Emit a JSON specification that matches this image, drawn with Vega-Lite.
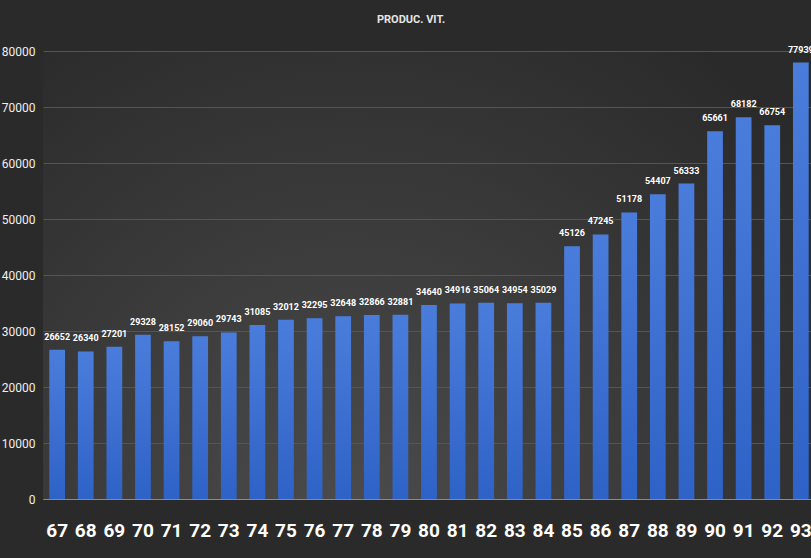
{
  "$schema": "https://vega.github.io/schema/vega-lite/v6.json",
  "width": 772,
  "height": 448,
  "autosize": {"type": "none"},
  "padding": {"left": 43, "top": 51, "right": 0, "bottom": 59},
  "background": "#2a2a2a",
  "title": {
    "text": "PRODUC. VIT.",
    "color": "#e6e6e6",
    "font": "Roboto",
    "fontSize": 11,
    "fontWeight": "bold",
    "dx": -18,
    "offset": 20
  },
  "config": {
    "view": {
      "stroke": null,
      "fill": {
        "gradient": "radial",
        "x1": 0.4, "y1": 0.8, "r1": 0,
        "x2": 0.4, "y2": 0.8, "r2": 0.75,
        "stops": [
          {"offset": 0, "color": "#4b4b4b"},
          {"offset": 1, "color": "#2a2a2a"}
        ]
      }
    }
  },
  "data": {
    "values": [
      {"year": "67", "value": 26652},
      {"year": "68", "value": 26340},
      {"year": "69", "value": 27201},
      {"year": "70", "value": 29328},
      {"year": "71", "value": 28152},
      {"year": "72", "value": 29060},
      {"year": "73", "value": 29743},
      {"year": "74", "value": 31085},
      {"year": "75", "value": 32012},
      {"year": "76", "value": 32295},
      {"year": "77", "value": 32648},
      {"year": "78", "value": 32866},
      {"year": "79", "value": 32881},
      {"year": "80", "value": 34640},
      {"year": "81", "value": 34916},
      {"year": "82", "value": 35064},
      {"year": "83", "value": 34954},
      {"year": "84", "value": 35029},
      {"year": "85", "value": 45126},
      {"year": "86", "value": 47245},
      {"year": "87", "value": 51178},
      {"year": "88", "value": 54407},
      {"year": "89", "value": 56333},
      {"year": "90", "value": 65661},
      {"year": "91", "value": 68182},
      {"year": "92", "value": 66754},
      {"year": "93", "value": 77939}
    ]
  },
  "encoding": {
    "x": {
      "field": "year",
      "type": "ordinal",
      "sort": null,
      "scale": {"paddingInner": 0.45, "paddingOuter": 0.22},
      "axis": {
        "title": null,
        "labelAngle": 0,
        "labelColor": "#ffffff",
        "labelFont": "Roboto",
        "labelFontSize": 19,
        "labelFontWeight": "bold",
        "labelPadding": 22,
        "ticks": false,
        "domainColor": "#8a8a8a",
        "domainWidth": 1
      }
    },
    "y": {
      "field": "value",
      "type": "quantitative",
      "scale": {"domain": [0, 80000], "nice": false},
      "axis": {
        "title": null,
        "format": "d",
        "values": [0, 10000, 20000, 30000, 40000, 50000, 60000, 70000, 80000],
        "labelColor": "#f0f0f0",
        "labelFont": "Roboto",
        "labelFontSize": 12,
        "labelPadding": 8,
        "ticks": false,
        "domain": false,
        "gridColor": "#555555",
        "gridWidth": 1
      }
    }
  },
  "layer": [
    {
      "mark": {
        "type": "bar",
        "color": {
          "gradient": "linear",
          "x1": 0, "y1": 0, "x2": 0, "y2": 1,
          "stops": [
            {"offset": 0, "color": "#4a7ddb"},
            {"offset": 1, "color": "#2f62c6"}
          ]
        }
      }
    },
    {
      "mark": {
        "type": "text",
        "dy": -13,
        "color": "#ffffff",
        "font": "Roboto",
        "fontSize": 9,
        "fontWeight": "bold"
      },
      "encoding": {
        "text": {"field": "value", "type": "quantitative", "format": "d"}
      }
    }
  ]
}
